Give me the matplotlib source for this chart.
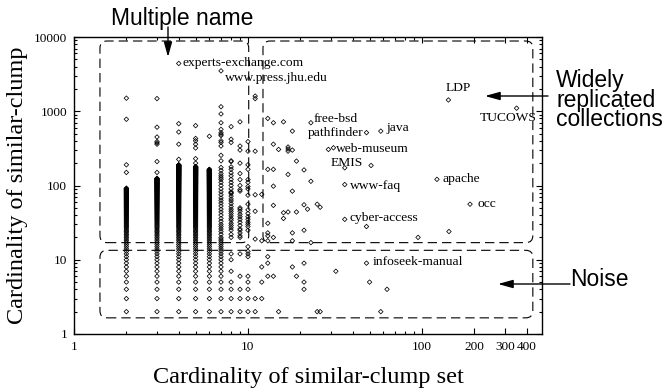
import numpy as np
import matplotlib
matplotlib.use("Agg")
import matplotlib.pyplot as plt
from matplotlib.patches import FancyBboxPatch
from matplotlib.ticker import FixedLocator, FixedFormatter, NullFormatter

# columns where every cardinality from 2 up to the top value is present
dense_x = [2, 3, 4, 5, 6]
dense_top = [92, 125, 190, 180, 165]

# remaining points, grouped by cardinality of the similar-clump set
col_x = [2, 3, 4, 5, 6, 7, 8, 9, 10, 11, 12, 13, 14, 15, 16, 17, 18, 19,
         21, 22, 23, 25, 26, 29, 31, 32, 36, 48, 50, 51, 58, 63, 95, 122,
         142, 143, 189, 350]
col_y = [
    [150, 190, 780, 1500],
    [150, 210, 360, 375, 390, 450, 610, 1480],
    [225, 360, 525, 680, 4400],
    [200, 230, 320, 360, 400, 430, 640],
    [460],
    [2, 3, 4, 5, 6, 7, 8, 9, 10, 11, 12, 13, 14, 15, 16, 17, 18, 19, 20, 22,
     24, 26, 28, 30, 33, 36, 40, 44, 48, 53, 58, 63, 68, 75, 82, 90, 100,
     110, 120, 127, 135, 145, 160, 175, 215, 255, 340, 380, 400, 470, 490,
     515, 570, 700, 920, 1150, 3500],
    [2, 3, 4, 5, 7, 10, 12, 20, 22, 25, 27, 29, 31, 34, 36, 39, 42, 45, 48,
     52, 57, 62, 66, 72, 78, 80, 82, 90, 100, 110, 121, 135, 148, 165, 178,
     210, 215, 380, 420, 620],
    [2, 3, 4, 6, 12, 20, 21, 23, 25, 26, 29, 32, 35, 38, 41, 45, 48, 50, 84,
     88, 100, 120, 145, 200, 300, 340, 720],
    [2, 3, 4, 5, 6, 11, 12, 13, 15, 25, 28, 30, 32, 35, 38, 42, 47, 56, 74,
     90, 97, 110, 120, 165, 190, 290, 390],
    [2, 3, 19, 45, 75, 290, 1480, 1600],
    [3, 5, 8, 18, 76],
    [6, 9, 11, 18, 21, 23, 31, 165, 800],
    [6, 20, 54, 98, 165, 360, 700],
    [2, 306],
    [36, 43, 720],
    [44, 141, 290, 310, 330],
    [8, 18, 23, 84, 300, 540],
    [6, 44, 213],
    [4, 5, 9, 25, 55, 162],
    [48],
    [17, 114, 700],
    [2, 56],
    [2, 51],
    [306],
    [322],
    [7],
    [35, 103, 173],
    [9, 28, 515],
    [5],
    [186],
    [2, 540],
    [4],
    [20],
    [121],
    [1420],
    [24],
    [56],
    [1100],
]

label_text = ["experts-exchange.com", "www.press.jhu.edu", "LDP", "TUCOWS",
              "free-bsd", "pathfinder", "java", "web-museum", "EMIS",
              "www-faq", "apache", "occ", "cyber-access", "infoseek-manual"]
label_x = [4, 7, 142, 350, 23, 48, 58, 31, 36, 36, 122, 189, 36, 48]
label_y = [4400, 3500, 1420, 1100, 700, 515, 540, 322, 173, 103, 121, 56, 35, 9]
# text offsets in pixels and horizontal alignment
label_dx = [4, 4, -3, -8, 3, -3, 6, 3, 2, 5, 6, 7, 5, 6]
label_dy = [0, -7, 12, -10, 4, 0, 3, -1, 5, -1, 0, 0, 1, 1]
label_ha = ["left", "left", "left", "center", "left", "right", "left", "left",
            "center", "left", "left", "left", "left", "left"]

x_ticks = [1, 10, 100, 200, 300, 400]
y_ticks = [1, 10, 100, 1000, 10000]

# dashed region boxes (data coords): x0, y0, x1, y1
box_x0 = [1.41, 12.2, 1.41]
box_y0 = [17, 17, 1.65]
box_x1 = [10.1, 434, 434]
box_y1 = [8830, 8830, 13.4]

serif = ["Liberation Serif", "DejaVu Serif"]
sans = ["Liberation Sans", "DejaVu Sans"]

xs, ys = [], []
for x, top in zip(dense_x, dense_top):
    vals = np.arange(2, top + 1)
    xs += [x] * len(vals)
    ys += list(vals)
for x, vals in zip(col_x, col_y):
    xs += [x] * len(vals)
    ys += vals

fig = plt.figure(figsize=(6.68, 3.92), dpi=100)
ax = fig.add_axes([74 / 668, 58 / 392, 468 / 668, 297 / 392])
ax.scatter(xs, ys, marker="D", s=2.3 ** 2, facecolors="none",
           edgecolors="black", linewidths=0.55, zorder=3)
ax.set_xscale("log")
ax.set_yscale("log")
ax.set_xlim(1, 490)
ax.set_ylim(1, 10000)

ax.xaxis.set_major_locator(FixedLocator(x_ticks))
ax.xaxis.set_major_formatter(FixedFormatter([str(t) for t in x_ticks]))
ax.xaxis.set_minor_locator(FixedLocator([2, 3, 4, 5, 6, 7, 8, 9, 20, 30, 40,
                                         50, 60, 70, 80, 90]))
ax.xaxis.set_minor_formatter(NullFormatter())
ax.yaxis.set_major_locator(FixedLocator(y_ticks))
ax.yaxis.set_major_formatter(FixedFormatter([str(t) for t in y_ticks]))
ax.yaxis.set_minor_formatter(NullFormatter())
ax.tick_params(which="both", direction="in", top=True, right=True, width=0.8)
ax.tick_params(which="major", length=4.5, labelsize=9.5, pad=5)
ax.tick_params(which="minor", length=2.5)
for lab in ax.get_xticklabels() + ax.get_yticklabels():
    lab.set_family(serif)
for sp in ax.spines.values():
    sp.set_linewidth(1.0)

ax.set_xlabel("Cardinality of similar-clump set", family=serif, fontsize=17.5,
              labelpad=10)
ax.set_ylabel("Cardinality of similar-clump", family=serif, fontsize=17.5,
              labelpad=4)

for t, x, y, dx, dy, ha in zip(label_text, label_x, label_y, label_dx,
                               label_dy, label_ha):
    ax.annotate(t, (x, y), xytext=(dx * 0.72, dy * 0.72),
                textcoords="offset points", ha=ha, va="center",
                family=serif, fontsize=9.7, zorder=4)

to_frac = ax.transScale + ax.transLimits
for x0, y0, x1, y1 in zip(box_x0, box_y0, box_x1, box_y1):
    (fx0, fy0), (fx1, fy1) = to_frac.transform([(x0, y0), (x1, y1)])
    ax.add_patch(FancyBboxPatch((fx0, fy0), fx1 - fx0, fy1 - fy0,
                                boxstyle="round,pad=0,rounding_size=0.015",
                                mutation_aspect=468 / 297,
                                transform=ax.transAxes, fill=False,
                                edgecolor="black", linewidth=0.8,
                                linestyle=(0, (8.4, 4.5)), clip_on=False))

arrow = dict(arrowstyle="-|>,head_length=0.9,head_width=0.25",
             color="black", lw=1.0, mutation_scale=10, shrinkA=0, shrinkB=0)
fig.text(182 / 668, 1 - 18 / 392, "Multiple name", family=sans, fontsize=16.5,
         ha="center", va="center")
ax.annotate("", xy=(168, 392 - 57), xytext=(168, 392 - 27),
            xycoords="figure pixels", textcoords="figure pixels",
            arrowprops=arrow)
fig.text(556 / 668, 1 - 100 / 392, "Widely\nreplicated\ncollections", family=sans,
         fontsize=16.5, ha="left", va="center", linespacing=0.8)
ax.annotate("", xy=(485, 392 - 96), xytext=(548, 392 - 96),
            xycoords="figure pixels", textcoords="figure pixels",
            arrowprops=arrow)
fig.text(570 / 668, 1 - 279 / 392, "Noise", family=sans, fontsize=16.5,
         ha="left", va="center")
ax.annotate("", xy=(498, 392 - 284), xytext=(570, 392 - 284),
            xycoords="figure pixels", textcoords="figure pixels",
            arrowprops=arrow)

fig.savefig("out.png", dpi=100)
